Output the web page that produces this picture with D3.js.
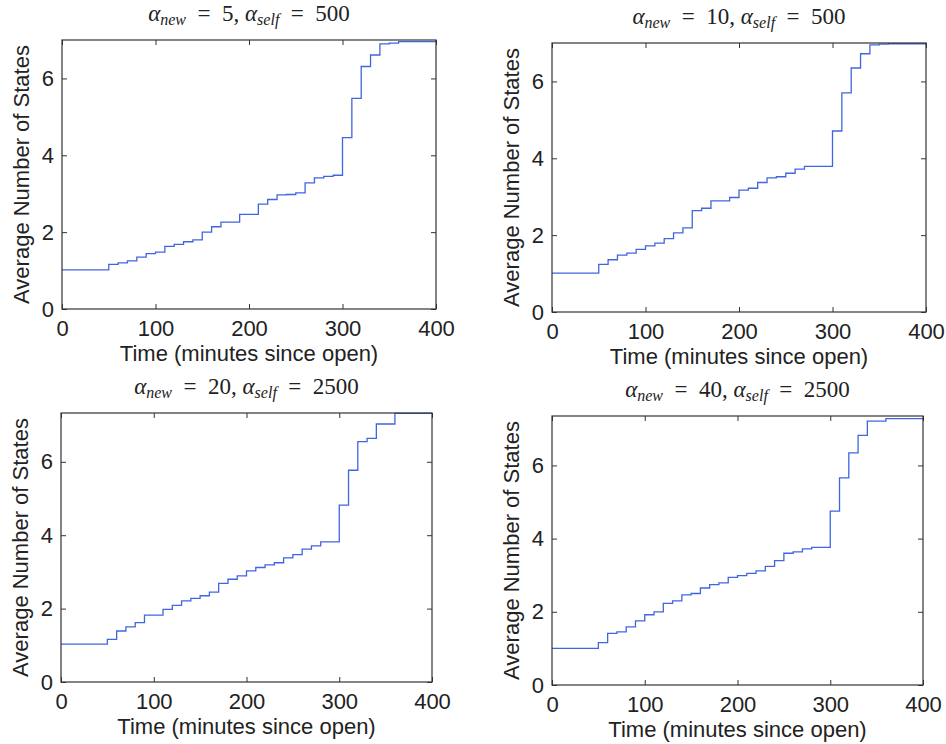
<!DOCTYPE html>
<html><head><meta charset="utf-8">
<script src="https://cdn.jsdelivr.net/npm/d3@7"></script>
<style>body{margin:0;background:#fff}</style>
</head><body>
<svg id="chart" width="946" height="744"></svg>
<script>
// step start times (minutes since open)
const stepTimes = [0,50,60,70,80,90,100,110,120,130,140,150,160,170,180,190,200,210,220,230,240,250,260,270,280,290,300,310,320,330,340,350,360];
const endTime = 400;
const xTicks = [0,100,200,300,400];
const yTicks = [0,2,4,6];

const seriesA = [1.02,1.16,1.20,1.25,1.35,1.44,1.48,1.63,1.68,1.75,1.80,2.00,2.14,2.26,2.26,2.46,2.46,2.73,2.85,2.97,2.98,3.02,3.28,3.41,3.45,3.48,4.46,5.48,6.31,6.61,6.90,6.92,6.96];
const seriesB = [1.01,1.24,1.36,1.48,1.53,1.63,1.72,1.79,1.91,2.06,2.19,2.64,2.70,2.89,2.89,2.98,3.17,3.22,3.37,3.49,3.52,3.61,3.72,3.79,3.79,3.79,4.71,5.70,6.35,6.72,6.95,6.97,6.98];
const seriesC = [1.03,1.16,1.39,1.50,1.62,1.82,1.82,1.98,2.09,2.21,2.28,2.35,2.45,2.69,2.80,2.89,3.03,3.12,3.19,3.25,3.38,3.47,3.62,3.71,3.82,3.82,4.82,5.77,6.55,6.64,7.03,7.03,7.32];
const seriesD = [1.00,1.16,1.41,1.45,1.59,1.75,1.92,2.00,2.23,2.30,2.46,2.50,2.65,2.74,2.79,2.94,2.99,3.05,3.12,3.24,3.40,3.60,3.64,3.72,3.76,3.76,4.75,5.66,6.34,6.82,7.21,7.21,7.28];

const titlesNew = ["5","10","20","40"];
const titlesSelf = ["500","500","2500","2500"];
const yMaxes = [7,7,7.33,7.35];
const xLabel = "Time (minutes since open)";
const yLabel = "Average Number of States";

const panels = [
  {l:62, r:436, t:40, b:309, s:seriesA},
  {l:552, r:926, t:43, b:312, s:seriesB},
  {l:61, r:432, t:413, b:682, s:seriesC},
  {l:552, r:923, t:416, b:685, s:seriesD}
];

const svg = d3.select("#chart");
const sans = "Liberation Sans, Arial, Helvetica, sans-serif";
const serif = "Liberation Serif, Times New Roman, serif";
const txt = "#222";
const fs = "22px";

panels.forEach((p,i)=>{
  const x = d3.scaleLinear().domain([0,400]).range([p.l,p.r]);
  const y = d3.scaleLinear().domain([0,yMaxes[i]]).range([p.b,p.t]);
  const g = svg.append("g");
  const cid = "clip"+i;
  svg.append("clipPath").attr("id",cid).append("rect")
    .attr("x",p.l).attr("y",p.t-1).attr("width",p.r-p.l).attr("height",p.b-p.t+1);

  const data = stepTimes.map((t,k)=>[t,p.s[k]]);
  data.push([endTime,p.s[p.s.length-1]]);
  g.append("path").datum(data)
    .attr("clip-path",`url(#${cid})`)
    .attr("fill","none").attr("stroke","#4065e0").attr("stroke-width",1.3)
    .attr("d",d3.line().x(d=>x(d[0])).y(d=>y(d[1])).curve(d3.curveStepAfter));

  // axes
  const ax = d3.axisBottom(x).tickValues(xTicks).tickSize(-5).tickPadding(11).tickFormat(d3.format("d"));
  const ay = d3.axisLeft(y).tickValues(yTicks).tickSize(-5).tickPadding(8).tickFormat(d3.format("d"));
  const gx = g.append("g").attr("transform",`translate(0,${p.b})`).call(ax);
  const gy = g.append("g").attr("transform",`translate(${p.l},0)`).call(ay);
  const gxt = g.append("g").attr("transform",`translate(0,${p.t})`).call(d3.axisTop(x).tickValues(xTicks).tickSize(-5).tickFormat(""));
  const gyr = g.append("g").attr("transform",`translate(${p.r},0)`).call(d3.axisRight(y).tickValues(yTicks).tickSize(-5).tickFormat(""));
  [gx,gy,gxt,gyr].forEach(a=>{
    a.select(".domain").remove();
    a.selectAll("line").attr("stroke","#333");
    a.selectAll("text").attr("fill",txt).style("font-family",sans).style("font-size",fs);
  });
  gx.selectAll("text").attr("dy","0.71em");
  // frame
  g.append("rect").attr("x",p.l).attr("y",p.t).attr("width",p.r-p.l).attr("height",p.b-p.t)
    .attr("fill","none").attr("stroke","#333").attr("stroke-width",1.2);

  // x label
  g.append("text").attr("x",(p.l+p.r)/2).attr("y",p.b+52).attr("text-anchor","middle")
    .attr("fill",txt).style("font-family",sans).style("font-size",fs).text(xLabel);
  // y label
  g.append("text").attr("transform",`translate(${p.l-33},${(p.t+p.b)/2}) rotate(-90)`)
    .attr("text-anchor","middle").attr("fill",txt).style("font-family",sans).style("font-size",fs).text(yLabel);

  // title
  const tt = g.append("text").attr("x",(p.l+p.r)/2).attr("y",p.t-19).attr("text-anchor","middle")
    .attr("fill",txt).style("font-family",serif).style("font-size","23px");
  tt.append("tspan").style("font-style","italic").text("α");
  tt.append("tspan").attr("dy",4).style("font-style","italic").style("font-size","16px").text("new");
  tt.append("tspan").attr("dy",-4).attr("xml:space","preserve").text("\u00a0\u00a0=\u00a0\u00a0"+titlesNew[i]+",\u00a0");
  tt.append("tspan").style("font-style","italic").text("α");
  tt.append("tspan").attr("dy",4).style("font-style","italic").style("font-size","16px").text("self");
  tt.append("tspan").attr("dy",-4).text("\u00a0\u00a0=\u00a0\u00a0"+titlesSelf[i]);
});
</script>
</body></html>
